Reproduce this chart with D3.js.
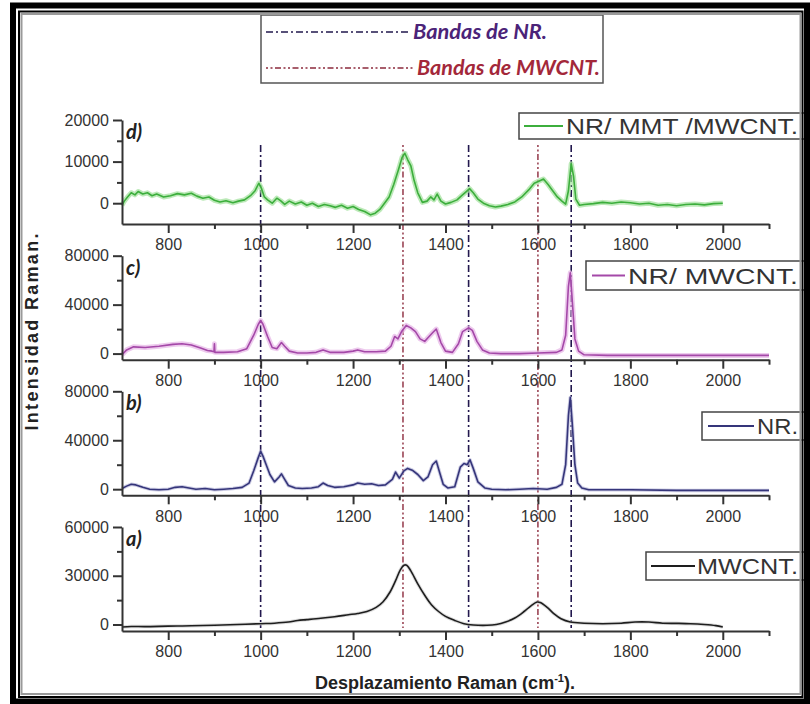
<!DOCTYPE html>
<html><head><meta charset="utf-8">
<script src="https://cdn.jsdelivr.net/npm/d3@7"></script>
<style>body{margin:0;background:#fff}svg{display:block}</style>
</head><body>
<script>
// ---------------- DATA ----------------
const xTicksMajor = [800, 1000, 1200, 1400, 1600, 1800, 2000];
const xTicksMinor = [900, 1100, 1300, 1500, 1700, 1900, 2100];
const nrBands = [1000, 1450, 1672];
const mwcntBands = [1308, 1600];
const panelLabels = ["d)", "c)", "b)", "a)"];
const seriesNames = ["NR/ MMT /MWCNT.", "NR/ MWCNT.", "NR.", "MWCNT."];
const yDomains = [[-5000, 20000], [-5000, 80000], [-5000, 80000], [-4000, 60000]];
const yTicksMajor = [[0, 10000, 20000], [0, 40000, 80000], [0, 40000, 80000], [0, 30000, 60000]];
const yTicksMinor = [[5000, 15000], [20000, 60000], [20000, 60000], [15000, 45000]];

const specD = [[700,-500],[705,500],[712,1500],[720,2500],[728,2000],[735,2800],[745,2200],[755,2500],[765,1800],[775,2200],[790,1500],[805,1800],[820,2300],[835,2000],[850,2400],[862,1700],[875,1200],[888,1500],[900,700],[912,300],[925,600],[940,100],[952,500],[965,800],[978,1800],[988,3000],[996,4800],[1002,3500],[1008,1500],[1015,800],[1025,0],[1035,1200],[1043,600],[1052,-300],[1062,500],[1075,-200],[1088,300],[1100,-500],[1112,0],[1125,-800],[1138,-300],[1150,-600],[1162,-1000],[1175,-500],[1188,-1200],[1200,-800],[1212,-1500],[1225,-2000],[1238,-2800],[1248,-2400],[1258,-1500],[1268,0],[1278,1500],[1288,4500],[1298,8000],[1306,11000],[1312,12000],[1318,10500],[1325,9000],[1332,5500],[1340,2500],[1350,200],[1360,500],[1368,1500],[1375,800],[1382,2200],[1390,500],[1400,-200],[1412,200],[1425,800],[1435,1800],[1445,2800],[1452,3500],[1460,2500],[1470,1000],[1482,0],[1495,-600],[1508,-900],[1520,-700],[1535,-300],[1550,300],[1565,1500],[1580,3200],[1592,4800],[1602,5300],[1612,5800],[1622,4500],[1632,3000],[1642,1500],[1652,500],[1660,-200],[1666,3000],[1672,9500],[1677,6500],[1682,1000],[1690,-500],[1700,-300],[1720,-100],[1740,200],[1760,0],[1780,300],[1800,100],[1820,-200],[1840,0],[1860,-500],[1880,-300],[1900,-600],[1920,-300],[1940,-200],[1960,-400],[1980,-100],[2000,0]];

const specC = [[700,-1000],[710,3000],[725,5500],[750,5000],[780,6000],[810,7500],[830,8000],[850,7000],[870,4500],[885,2500],[895,2000],[899,1500],[900,8000],[901,1000],[920,1000],[950,1500],[970,4000],[985,15000],[995,24000],[1000,27000],[1005,24000],[1015,14000],[1025,5000],[1035,4000],[1045,9000],[1052,6000],[1062,2000],[1080,500],[1100,500],[1120,1000],[1135,3000],[1150,1000],[1180,1000],[1200,2000],[1210,3000],[1225,1500],[1250,1500],[1270,2000],[1282,6000],[1290,14000],[1297,12000],[1305,18000],[1315,23000],[1325,21000],[1335,18000],[1345,12000],[1355,10000],[1362,13000],[1372,17000],[1380,20000],[1390,9000],[1400,2000],[1415,1000],[1428,8000],[1437,18000],[1450,21000],[1458,19000],[1468,10000],[1480,3000],[1495,500],[1520,0],[1560,0],[1600,500],[1640,1000],[1652,3000],[1660,15000],[1666,55000],[1670,66000],[1674,45000],[1680,12000],[1688,2000],[1700,-1000],[1750,-1500],[1850,-1500],[2000,-1500],[2100,-1500]];

const specB = [[700,500],[710,2500],[720,4000],[730,3500],[745,1500],[760,0],[780,-500],[800,0],[815,1500],[830,2000],[845,1000],[860,0],[880,500],[900,-500],[920,0],[940,500],[960,1500],[975,5000],[985,15000],[995,26000],[1000,31000],[1005,27000],[1012,20000],[1020,12000],[1030,6000],[1040,10000],[1045,12500],[1052,8000],[1060,3000],[1075,1000],[1090,500],[1110,1000],[1125,2000],[1135,5000],[1145,3000],[1160,1500],[1180,2000],[1200,3500],[1210,5000],[1225,4000],[1240,4500],[1255,3000],[1270,3500],[1285,8000],[1292,14000],[1300,9000],[1310,15000],[1318,17000],[1328,15500],[1340,12000],[1352,7000],[1362,10000],[1372,20000],[1380,23000],[1387,14000],[1395,4000],[1405,1000],[1420,2000],[1432,18000],[1440,21000],[1447,20000],[1453,24000],[1460,17000],[1470,6000],[1485,1000],[1500,0],[1530,-500],[1560,0],[1590,500],[1620,0],[1640,1500],[1652,4000],[1660,20000],[1666,60000],[1670,75000],[1674,55000],[1680,20000],[1686,5000],[1695,1000],[1710,-500],[1800,-500],[1900,-1000],[2000,-1000],[2100,-1000]];

const specA = [[700,-1500],[720,-1200],[750,-1300],[800,-1000],[850,-800],[900,-500],[950,0],[1000,500],[1030,800],[1060,1500],[1080,2500],[1100,3000],[1130,3800],[1160,4800],[1190,6000],[1210,6800],[1230,8000],[1250,10500],[1265,14000],[1280,20000],[1292,27000],[1302,33500],[1310,36500],[1316,36500],[1325,33000],[1340,25000],[1355,18000],[1370,12000],[1385,8000],[1400,5000],[1420,2500],[1440,500],[1460,-300],[1490,-500],[1510,0],[1530,1500],[1550,4000],[1570,8000],[1585,11500],[1598,13800],[1605,13500],[1620,10500],[1635,6500],[1650,3500],[1670,1500],[1700,800],[1740,500],[1780,800],[1810,1500],[1840,1500],[1870,800],[1900,700],[1930,500],[1960,0],[1985,-700],[2000,-1500]];

const spectra = [specD, specC, specB, specA];
const lineColors = ["#3cae3c", "#a448a8", "#35357a", "#1e1e1e"];
const haloColors = ["#9fe09a", "#e6b4e6", "#b8b8d8", "#cfcfcf"];

// ---------------- LAYOUT ----------------
const W = 810, H = 704;
const L = 122, R = 769;
const tops = [120, 255.7, 391.3, 527];
const PH = 104;

const svg = d3.select("body").append("svg").attr("width", W).attr("height", H);
svg.append("rect").attr("width", W).attr("height", H).attr("fill", "#fff");

const x = d3.scaleLinear().domain([700, 2100]).range([L, R]);
const fontAx = "'Liberation Sans', Arial, sans-serif";
const fontLg = "Lato, 'Open Sans', sans-serif";

// vertical band lines (continuous across panels)
const vTop = 145, vBot = 628;
const nrDash = "7,3,2,3", mwDash = "2,2.5,2,2.5,6,2.5";
nrBands.forEach(b => {
  svg.append("line").attr("x1", x(b)).attr("x2", x(b)).attr("y1", vTop).attr("y2", vBot)
    .attr("stroke", "#22184e").attr("stroke-width", 1.6).attr("stroke-dasharray", nrDash);
});
mwcntBands.forEach(b => {
  svg.append("line").attr("x1", x(b)).attr("x2", x(b)).attr("y1", vTop).attr("y2", vBot)
    .attr("stroke", "#8c2a3c").attr("stroke-width", 1.4).attr("stroke-dasharray", mwDash);
});

spectra.forEach((spec, i) => {
  const top = tops[i], bot = top + PH;
  const y = d3.scaleLinear().domain(yDomains[i]).range([bot, top]);
  const g = svg.append("g");

  const line = d3.line().x(d => x(d[0])).y(d => y(d[1])).curve(i === 3 ? d3.curveCatmullRom : d3.curveLinear);
  g.append("path").datum(spec).attr("d", line).attr("fill", "none")
    .attr("stroke", haloColors[i]).attr("stroke-width", i < 2 ? 5 : 3.5).attr("stroke-opacity", 0.7).attr("stroke-linejoin", "round");
  g.append("path").datum(spec).attr("d", line).attr("fill", "none")
    .attr("stroke", lineColors[i]).attr("stroke-width", 1.6).attr("stroke-linejoin", "round");

  const xAxis = d3.axisBottom(x).tickValues(xTicksMajor).tickSize(9).tickSizeOuter(0).tickPadding(6)
    .tickFormat(d3.format("d"));
  const xa = g.append("g").attr("transform", `translate(0,${bot})`).call(xAxis);
  xa.select(".domain").attr("stroke", "#333").attr("stroke-width", 2);
  xa.selectAll(".tick line").attr("stroke", "#333").attr("stroke-width", 2);
  xa.selectAll("text").attr("font-family", fontAx).attr("font-size", 16).attr("fill", "#333");
  const xm = d3.axisBottom(x).tickValues(xTicksMinor).tickSize(5).tickSizeOuter(0).tickFormat("");
  const xma = g.append("g").attr("transform", `translate(0,${bot})`).call(xm);
  xma.select(".domain").remove();
  xma.selectAll(".tick line").attr("stroke", "#333").attr("stroke-width", 2);

  const yAxis = d3.axisLeft(y).tickValues(yTicksMajor[i]).tickSize(9).tickSizeOuter(0).tickPadding(4)
    .tickFormat(d3.format("d"));
  const ya = g.append("g").attr("transform", `translate(${L},0)`).call(yAxis);
  ya.select(".domain").attr("stroke", "#333").attr("stroke-width", 2);
  ya.selectAll(".tick line").attr("stroke", "#333").attr("stroke-width", 2);
  ya.selectAll("text").attr("font-family", fontAx).attr("font-size", 16).attr("fill", "#333");
  const ym = d3.axisLeft(y).tickValues(yTicksMinor[i]).tickSize(5).tickSizeOuter(0).tickFormat("");
  const yma = g.append("g").attr("transform", `translate(${L},0)`).call(ym);
  yma.select(".domain").remove();
  yma.selectAll(".tick line").attr("stroke", "#333").attr("stroke-width", 2);

  g.append("text").attr("x", 126).attr("y", top + 19).text(panelLabels[i])
    .attr("font-family", fontLg).attr("font-weight", "bold").attr("font-style", "italic")
    .attr("font-size", 20).attr("fill", "#222");
});

// right legends
const legends = [
  {x0: 519, y0: 113, y1: 139, lx0: 524, lx1: 563, tx: 566},
  {x0: 586, y0: 261, y1: 290, lx0: 592, lx1: 625, tx: 628},
  {x0: 702, y0: 412, y1: 440, lx0: 708, lx1: 754, tx: 757},
  {x0: 646, y0: 552, y1: 580, lx0: 651, lx1: 695, tx: 697}
];
legends.forEach((lg, i) => {
  svg.append("rect").attr("x", lg.x0).attr("y", lg.y0).attr("width", 808 - lg.x0).attr("height", lg.y1 - lg.y0)
    .attr("fill", "#fff").attr("stroke", "#444").attr("stroke-width", 1.5);
  const cy = (lg.y0 + lg.y1) / 2;
  svg.append("line").attr("x1", lg.lx0).attr("x2", lg.lx1).attr("y1", cy).attr("y2", cy)
    .attr("stroke", lineColors[i]).attr("stroke-width", 2);
  svg.append("text").attr("x", lg.tx).attr("y", cy + 8).text(seriesNames[i])
    .attr("font-family", fontAx).attr("font-size", 22).attr("fill", "#333")
    .attr("textLength", 798 - lg.tx).attr("lengthAdjust", "spacingAndGlyphs");
});

// top legend
svg.append("rect").attr("x", 261).attr("y", 15).attr("width", 342).attr("height", 68)
  .attr("fill", "#fff").attr("stroke", "#555").attr("stroke-width", 1.5);
svg.append("line").attr("x1", 266).attr("x2", 411).attr("y1", 32).attr("y2", 32)
  .attr("stroke", "#22184e").attr("stroke-width", 1.6).attr("stroke-dasharray", nrDash);
svg.append("text").attr("x", 413).attr("y", 39).text("Bandas de NR.")
  .attr("font-family", fontLg).attr("font-weight", "bold").attr("font-style", "italic")
  .attr("font-size", 21).attr("fill", "#4b2378").attr("textLength", 134).attr("lengthAdjust", "spacingAndGlyphs");
svg.append("line").attr("x1", 266).attr("x2", 415).attr("y1", 68).attr("y2", 68)
  .attr("stroke", "#8c2a3c").attr("stroke-width", 1.4).attr("stroke-dasharray", mwDash);
svg.append("text").attr("x", 417).attr("y", 75).text("Bandas de MWCNT.")
  .attr("font-family", fontLg).attr("font-weight", "bold").attr("font-style", "italic")
  .attr("font-size", 21).attr("fill", "#a3283a").attr("textLength", 183).attr("lengthAdjust", "spacingAndGlyphs");

// axis titles
svg.append("text").attr("transform", "translate(38,332) rotate(-90)").attr("text-anchor", "middle")
  .text("Intensidad Raman.").attr("font-family", fontAx).attr("font-weight", "bold")
  .attr("font-size", 18).attr("fill", "#222").attr("textLength", 197).attr("lengthAdjust", "spacing");
const xt = svg.append("text").attr("x", 445).attr("y", 689).attr("text-anchor", "middle")
  .attr("font-family", fontAx).attr("font-weight", "bold").attr("font-size", 18).attr("fill", "#222");
xt.append("tspan").text("Desplazamiento Raman (cm");
xt.append("tspan").attr("dy", -7).attr("font-size", 11).text("-1");
xt.append("tspan").attr("dy", 7).text(").");

// frame (drawn last, on top)
const fr = svg.append("g").attr("fill", "none");
// outer thick black
fr.append("path").attr("d", "M13,5.5 H807 V701.5 H13 Z").attr("stroke", "#000").attr("stroke-width", 6);
// inner thin black
fr.append("path").attr("d", "M19,11.5 H802.5 V697 H19 Z").attr("stroke", "#000").attr("stroke-width", 2);
// inner gray
fr.append("path").attr("d", "M21.5,14 H800.5 V694 H21.5 Z").attr("stroke", "#9a9a9a").attr("stroke-width", 2);
</script>
</body></html>
